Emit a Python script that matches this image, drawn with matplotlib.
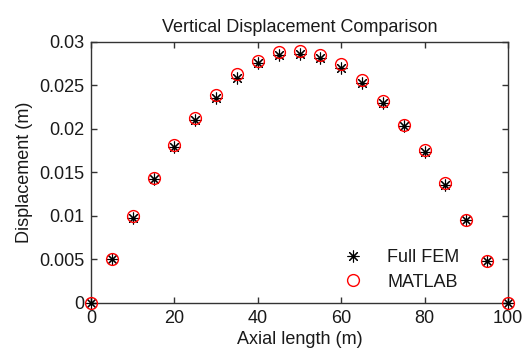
import numpy as np
import matplotlib
matplotlib.use("Agg")
import matplotlib.pyplot as plt

plt.rcParams['font.family'] = ['Liberation Sans', 'DejaVu Sans']
plt.rcParams['text.color'] = '#1a1a1a'
plt.rcParams['axes.labelcolor'] = '#1a1a1a'

# axial positions along the member (m)
axial = [0, 5, 10, 15, 20, 25, 30, 35, 40, 45, 50, 55, 60, 65, 70, 75, 80, 85, 90, 95, 100]

# vertical displacement from full FEM model (m)
fem_disp = [0, 0.0050, 0.0098, 0.0142, 0.0179, 0.0210, 0.0236, 0.0259, 0.0276, 0.0285,
            0.0286, 0.0282, 0.0270, 0.0253, 0.0230, 0.0204, 0.0173, 0.0136, 0.0095, 0.0048, 0]

# vertical displacement from MATLAB solution (m)
matlab_disp = [0, 0.0051, 0.0100, 0.0144, 0.0182, 0.0213, 0.0239, 0.0263, 0.0278, 0.0288,
               0.0290, 0.0285, 0.0275, 0.0256, 0.0232, 0.0205, 0.0176, 0.0138, 0.0095, 0.0048, 0]

xticks = [0, 20, 40, 60, 80, 100]
yticks = [0, 0.005, 0.01, 0.015, 0.02, 0.025, 0.03]
ytick_labels = ['0', '0.005', '0.01', '0.015', '0.02', '0.025', '0.03']

fig = plt.figure(figsize=(5.24, 3.61), dpi=100)
ax = fig.add_axes([0.1737, 0.1607, 0.7958, 0.7230])

ax.plot(axial, fem_disp, linestyle='none', marker=(8, 2, 0), markersize=8.5,
        color='black', markeredgewidth=0.8, label='Full FEM', clip_on=False, zorder=3)
ax.plot(axial, matlab_disp, linestyle='none', marker='o', markersize=8.5,
        markerfacecolor='none', markeredgecolor='red', markeredgewidth=1.0,
        label='MATLAB', clip_on=False, zorder=3)

ax.set_xlim(0, 100)
ax.set_ylim(0, 0.03)
ax.set_xticks(xticks)
ax.set_yticks(yticks)
ax.set_yticklabels(ytick_labels)
ax.tick_params(direction='in', top=True, right=True, length=4, labelsize=13, width=1,
               color='#333333', labelcolor='#1a1a1a', pad=5)
for s in ax.spines.values():
    s.set_linewidth(1)
    s.set_color('#333333')

ax.set_xlabel('Axial length (m)', fontsize=13, labelpad=3)
ax.set_ylabel('Displacement (m)', fontsize=13, labelpad=4)
ax.set_title('Vertical Displacement Comparison', fontsize=13, pad=7)

ax.legend(loc='lower left', frameon=False, fontsize=13, handletextpad=0.88,
          bbox_to_anchor=(0.568, 0.02), labelspacing=0.4, borderaxespad=0)

fig.savefig('out.png', dpi=100)
